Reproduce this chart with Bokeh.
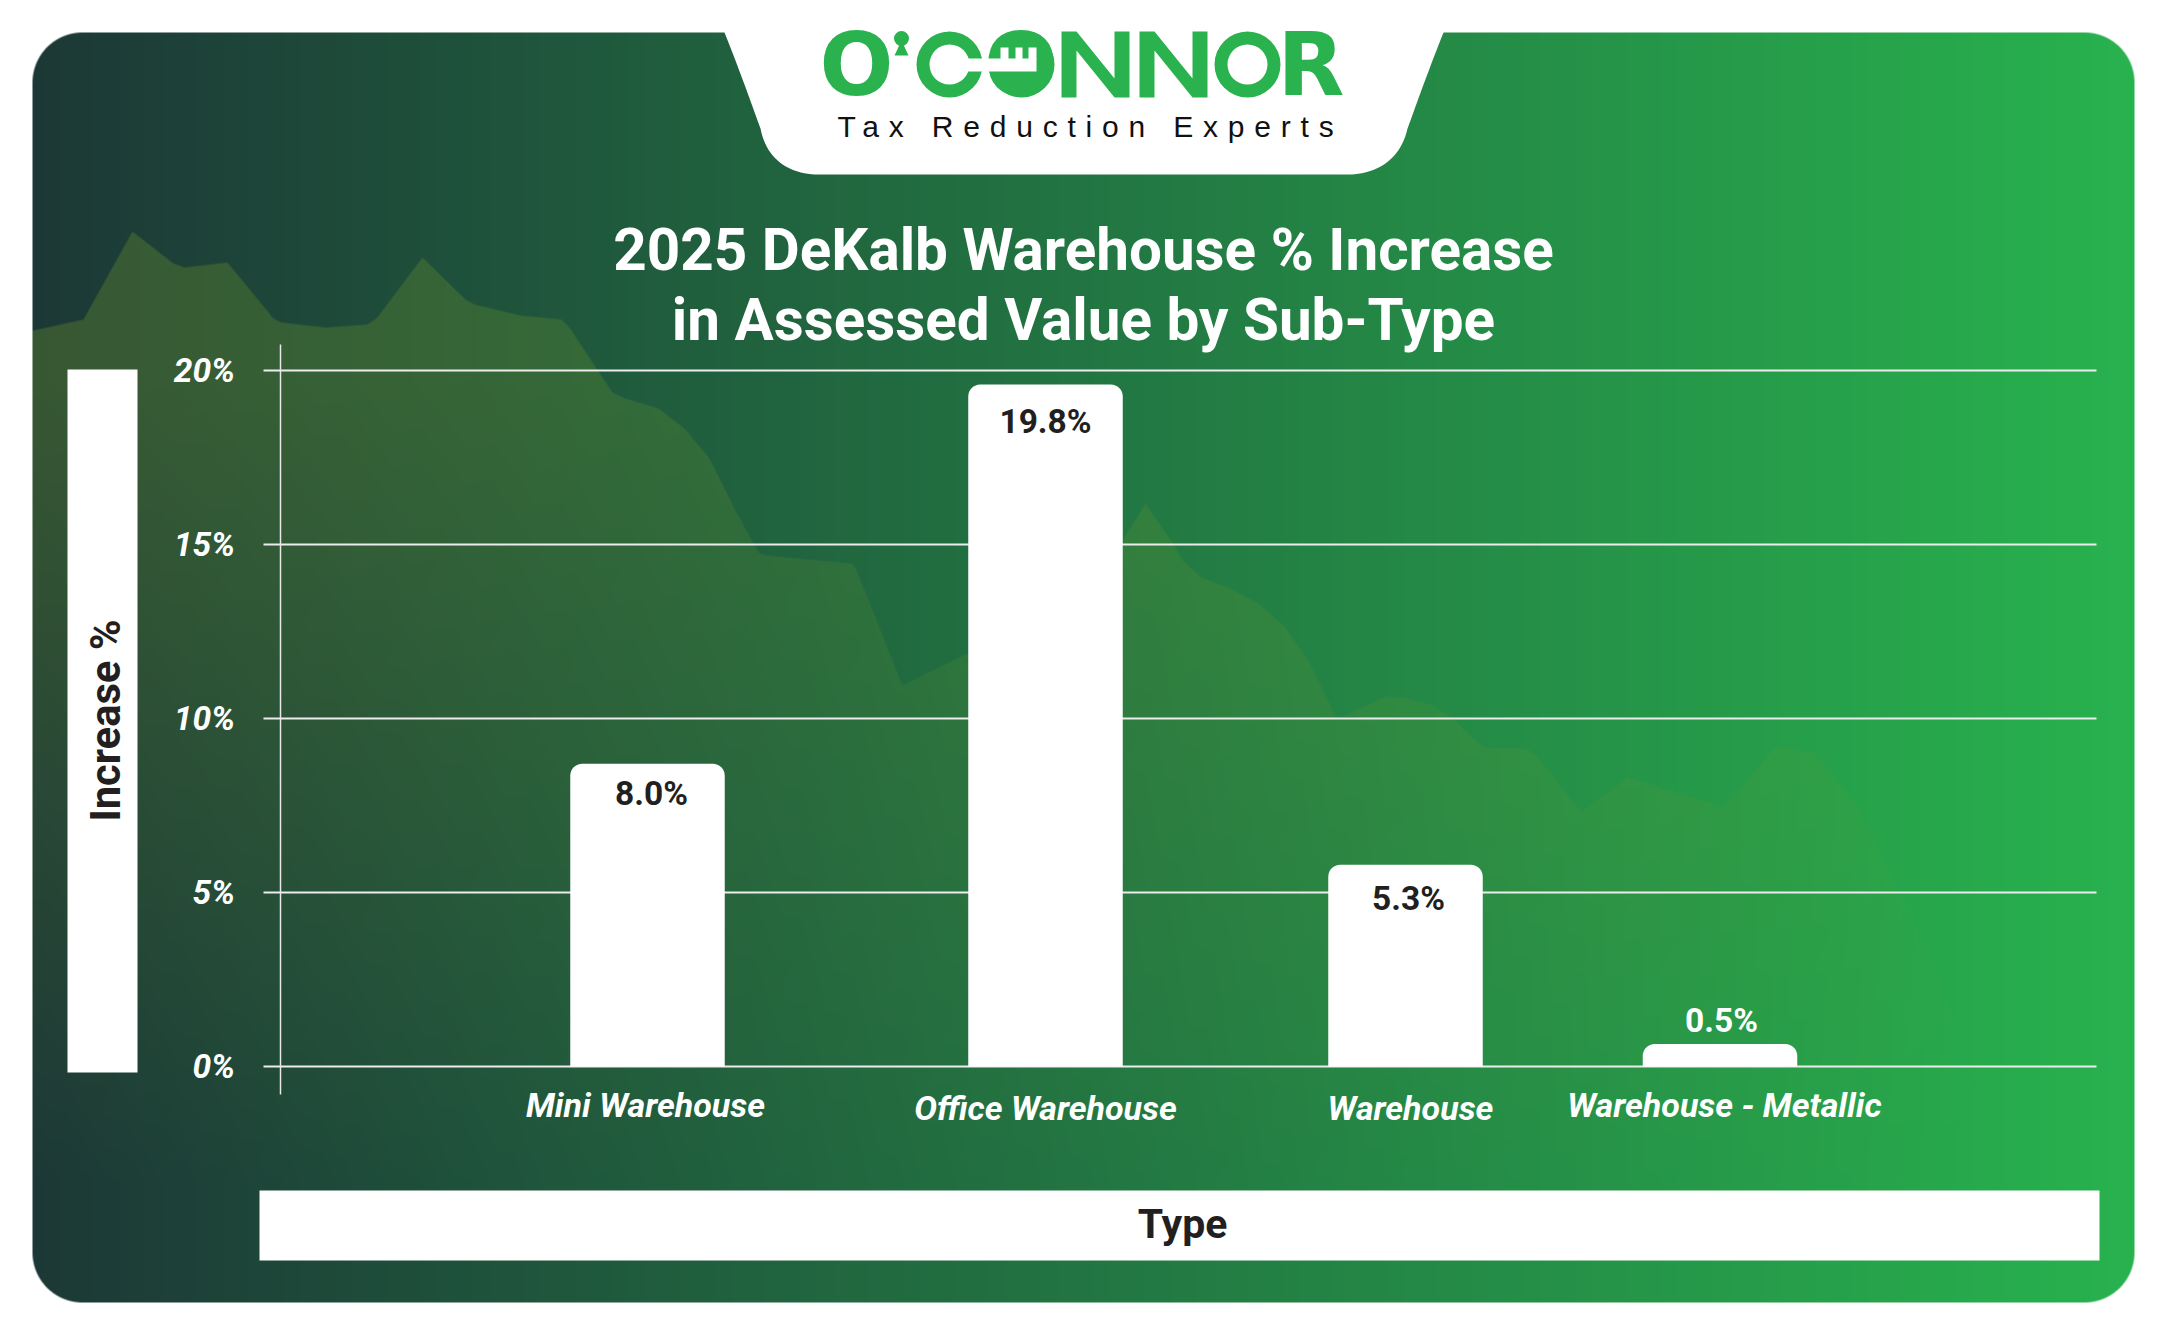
import numpy as np
from bokeh.core.properties import value
from bokeh.embed import file_html
from bokeh.io import curdoc
from bokeh.resources import INLINE
from bokeh.plotting import figure
from bokeh.models import Range1d, LinearAxis, FixedTicker, PrintfTickFormatter, CustomJS

# ---- chart data -------------------------------------------------------
categories = ["Mini Warehouse", "Office Warehouse", "Warehouse", "Warehouse - Metallic"]
value_labels = ["8.0%", "19.8%", "5.3%", "0.5%"]
bar_heights = [8.7, 19.6, 5.8, 0.65]          # height of each drawn bar as read on the axis
y_ticks = [0, 5, 10, 15, 20]
bar_centers = [647, 1045, 1405, 1719.5]

# decorative skyline behind the plot
skyline_x = [33, 83, 132, 173, 184, 227, 273, 281, 326, 367, 376, 422, 465, 474, 520, 561, 569, 612, 622,
             658, 684, 709, 735, 758, 765, 851, 855, 902, 967, 1122, 1145, 1172, 1182, 1201, 1228, 1258,
             1285, 1308, 1335, 1340, 1385, 1405, 1433, 1451, 1483, 1526, 1536, 1581, 1627, 1677, 1723,
             1776, 1816, 1859, 1899, 1939, 1985, 2020, 2134]
skyline_y = [330, 319, 231, 263, 267, 262, 318, 322, 327, 324, 318, 257, 299, 304, 315, 319, 327, 392, 397,
             408, 428, 458, 510, 552, 555, 563, 567, 685, 653, 540, 503, 542, 560, 577, 587, 603,
             627, 660, 715, 717, 696, 697, 705, 717, 747, 748, 755, 811, 777, 792, 807,
             745, 753, 810, 893, 980, 1110, 1301, 1301]

# ---- figure: x and primary y are page pixels, "pct" is the value axis ---
PX0, PY0 = 0, 0
W, H = 2151, 1317
Y0_PX, PX_PER_PCT = 1066.0, 34.8

p = figure(width=W, height=H, output_backend="svg", toolbar_location=None,
           x_range=Range1d(PX0, PX0 + W), y_range=Range1d(PY0 + H, PY0),
           x_axis_location=None, y_axis_location=None, min_border=0,
           outline_line_color=None, background_fill_color="white", border_fill_color="white")
p.xgrid.visible = False
p.ygrid.visible = False
p.extra_y_ranges = {"pct": Range1d((Y0_PX - (PY0 + H)) / PX_PER_PCT, (Y0_PX - PY0) / PX_PER_PCT)}

# ---- background panel: gradient, rounded corners, faded skyline ---------
L, T, R, B, RAD = 32, 32, 2134, 1302, 50
w, h = R - L, B - T
xx, yy = np.meshgrid(np.arange(w) + L + .5, np.arange(h) + T + .5)
t = (xx - L) / w
c0, c1 = np.array([28, 56, 54.0]), np.array([40, 178, 78.0])
rgb = c0[None, None, :] + t[:, :, None] * (c1 - c0)[None, None, :]
top = np.interp(xx, skyline_x, skyline_y)
a_x = np.interp(xx, [33, 400, 800, 1250, 1600, 1850, 2050], [.33, .30, .24, .27, .30, .22, 0])
a_y = np.clip((1180 - yy) / 800, 0, 1)
mask = np.clip(yy - top + .5, 0, 1) * a_x * a_y
rgb = rgb + mask[:, :, None] * (np.array([110, 150, 45.0])[None, None, :] - rgb)
dx = np.maximum(np.maximum(L + RAD - xx, xx - (R - RAD)), 0)
dy = np.maximum(np.maximum(T + RAD - yy, yy - (B - RAD)), 0)
alpha = np.clip(RAD - np.hypot(dx, dy) + .5, 0, 1)
img = np.dstack([rgb, alpha * 255]).round().astype(np.uint8)
img_u32 = img.view(np.uint32).reshape(h, w)
p.image_rgba(image=[img_u32], x=L, y=T, dw=w, dh=h, level="image")


def bez(a, b, c, d, n=24):
    s = np.linspace(0, 1, n)[:, None]
    a, b, c, d = map(np.array, (a, b, c, d))
    return (1 - s) ** 3 * a + 3 * (1 - s) ** 2 * s * b + 3 * (1 - s) * s ** 2 * c + s ** 3 * d


tab = np.vstack([[(724, 20)],
                 bez((724, 32), (745, 85), (755, 115), (760, 128)),
                 bez((760, 128), (766, 160), (790, 174), (818, 174)),
                 bez((1347, 174), (1375, 174), (1400, 160), (1407, 128)),
                 bez((1407, 128), (1412, 115), (1422, 85), (1443, 32)),
                 [(1443, 20)]])
p.patch(tab[:, 0], tab[:, 1], fill_color="white", line_color=None, level="underlay")

# axis-title boxes
p.quad(left=[67, 259], right=[137, 2099], top=[369, 1190], bottom=[1072, 1260],
       fill_color="white", line_color=None, level="underlay")

# ---- value axis, gridlines, bars ----------------------------------------
p.segment(x0=[263] * len(y_ticks), x1=[2096] * len(y_ticks), y0=y_ticks, y1=y_ticks, y_range_name="pct",
          line_color="#ececec", line_width=2, level="underlay")

yaxis = LinearAxis(y_range_name="pct", fixed_location=279.6, ticker=FixedTicker(ticks=y_ticks),
                   formatter=PrintfTickFormatter(format="%d%%"), bounds=(-0.8, 20.75),
                   axis_line_color="#e8e8e8", axis_line_width=1.5,
                   major_tick_line_color=None, minor_tick_line_color=None,
                   major_tick_in=0, major_tick_out=0, major_label_standoff=45,
                   major_label_text_font="Roboto", major_label_text_font_style="bold italic",
                   major_label_text_font_size="33.5px", major_label_text_color="white")
p.add_layout(yaxis, "left")

p.vbar(x=bar_centers, top=bar_heights, bottom=[0] * 4, width=154.5, y_range_name="pct",
       fill_color="white", line_color=None, border_radius=(12, 12, 0, 0))


def label(x, y, s, size, color="white", style="bold", align="center", baseline="middle", font="Roboto", angle=0):
    p.text(x=[x], y=[y], text=[s], text_font=value(font), text_font_size=f"{size}px", text_font_style=style,
           text_color=color, text_align=align, text_baseline=baseline, angle=angle)


# category labels
for s, x, y in zip(categories, [645, 1045, 1410, 1724], [1104, 1107, 1107, 1104]):
    label(x, y, s, 34, style="bold italic")

# bar value labels
for s, x, y, c in zip(value_labels, [651, 1045, 1408, 1721], [793, 421, 898, 1020],
                      ["#231f20", "#231f20", "#231f20", "white"]):
    label(x, y, s, 33.5, color=c)

# titles
label(1083, 249, "2025 DeKalb Warehouse % Increase", 58.4)
label(1083, 319, "in Assessed Value by Sub-Type", 58.4)
label(105, 720, "Increase %", 41.7, color="#231f20", angle=np.pi / 2)
label(1182, 1223, "Type", 41, color="#231f20")

# ---- logo ---------------------------------------------------------------
GREEN = "#2ab24f"
label(819, 64, "O'CONNOR", 87, color=GREEN, baseline="alphabetic", align="left", font="DejaVu Sans")
label(837, 126, "Tax Reduction Experts", 30, color="#111111", style="normal", align="left", font="Liberation Sans")
# white-out then redraw the stylised parts of the wordmark
p.quad(left=[891, 912, 1056], right=[916, 986, 1283], top=[28, 28, 28], bottom=[100, 100, 100],
       fill_color="white", line_color=None)
p.annulus(x=[949, 1247], y=[64, 64], inner_radius=20, outer_radius=33, inner_radius_units="screen",
          outer_radius_units="screen", fill_color=GREEN, line_color=None)
p.quad(left=[962], right=[986], top=[58], bottom=[71], fill_color="white", line_color=None)
for nx in (1061, 1139):
    p.patch([nx, nx + 15, nx + 53, nx + 53, nx + 68, nx + 68, nx + 53, nx + 15, nx + 15, nx],
            [31, 31, 78, 31, 31, 97, 97, 50, 97, 97], fill_color=GREEN, line_color=None)
p.scatter(x=[1021, 901], y=[64, 38], size=[66, 15], marker="circle", fill_color=GREEN, line_color=None)
p.patch([901, 894, 908], [40, 55, 55], fill_color=GREEN, line_color=None)
p.quad(left=[985, 1000, 1015, 1028], right=[1036, 1008, 1022, 1036], top=[58, 47, 47, 47], bottom=[71, 59, 59, 59],
       fill_color="white", line_color=None)

# the tagline is letter-spaced in the original; canvas text has no such option
doc = curdoc()
doc.add_root(p)
doc.js_on_event("document_ready", CustomJS(code="""
function walk(root) {
  root.querySelectorAll('*').forEach(el => {
    if (el.shadowRoot) walk(el.shadowRoot);
    if (el.tagName.toLowerCase() === 'text' && el.textContent.indexOf('Tax Reduction Experts') >= 0)
      el.setAttribute('letter-spacing', '9.8px');
  });
}
let n = 0;
const id = setInterval(() => { walk(document); if (++n > 30) clearInterval(id); }, 100);
walk(document);
"""))

open("out.html", "w").write(file_html(p, INLINE))
